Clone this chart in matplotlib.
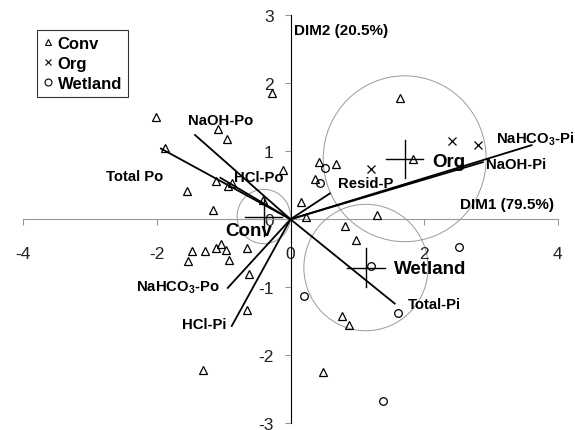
import matplotlib
matplotlib.use('Agg')
import matplotlib.pyplot as plt
from matplotlib.patches import Circle
from matplotlib.lines import Line2D

plt.rcParams['font.family'] = ['Liberation Sans', 'DejaVu Sans']
plt.rcParams['mathtext.default'] = 'regular'

# sample scores (DIM1, DIM2)
conv_x = [-2.01, -1.08, -0.95, -1.88, -0.28, -0.11, -1.12, -0.93, -0.87, -1.55, -0.41, -1.16,
          0.16, 0.23, 0.43, 0.68, 0.37, 1.64, 1.84, 1.30, 0.82, 0.98, 0.77, 0.88, 0.48,
          -1.48, -1.28, -1.12, -1.04, -0.96, -0.65, -1.54, -0.92, -0.62, -0.65, -1.31]
conv_y = [1.51, 1.33, 1.18, 1.05, 1.85, 0.72, 0.56, 0.49, 0.54, 0.41, 0.28, 0.13,
          0.25, 0.03, 0.84, 0.81, 0.59, 1.78, 0.88, 0.07, -0.10, -0.31, -1.42, -1.56, -2.25,
          -0.47, -0.47, -0.43, -0.37, -0.45, -0.43, -0.61, -0.60, -0.81, -1.34, -2.22]
org_x = [2.42, 2.81, 1.21]
org_y = [1.15, 1.09, 0.74]
wet_x = [0.52, 0.44, 2.52, 1.21, 0.20, 1.61, 1.38]
wet_y = [0.76, 0.54, -0.41, -0.69, -1.13, -1.38, -2.68]

# group centroids and confidence circles
groups = ['Conv', 'Org', 'Wetland']
cent_x = [-0.40, 1.71, 1.13]
cent_y = [0.04, 0.89, -0.71]
radius = [0.40, 1.22, 0.93]

# variable loadings
variables = ['Total Po', 'NaOH-Po', 'HCl-Po', 'NaHCO$_3$-Po', 'HCl-Pi',
             'Resid-P', 'NaHCO$_3$-Pi', 'NaOH-Pi', 'Total-Pi']
load_x = [-1.94, -1.43, -1.05, -0.94, -0.88, 0.59, 3.61, 2.88, 1.56]
load_y = [1.04, 1.24, 0.61, -1.01, -1.57, 0.38, 1.09, 0.84, -1.24]

# label placement for the loadings
var_lab_x = [-2.33, -1.05, -0.47, -1.68, -1.29, 1.12, 3.66, 3.38, 2.16]
var_lab_y = [0.63, 1.46, 0.62, -1.00, -1.54, 0.54, 1.19, 0.82, -1.25]
grp_lab_x = [-0.62, 2.37, 2.09]
grp_lab_y = [-0.16, 0.85, -0.72]

fig = plt.figure(figsize=(5.75, 4.31), dpi=100)
ax = fig.add_axes([0, 0, 1, 1])
ax.set_xlim(-4.35, 4.26)
ax.set_ylim(-3.10, 3.24)

for k in range(len(groups)):
    ax.add_patch(Circle((cent_x[k], cent_y[k]), radius[k], fill=False,
                        edgecolor='#9a9a9a', linewidth=0.7, zorder=1))
    ax.plot([cent_x[k] - 0.28, cent_x[k] + 0.28], [cent_y[k], cent_y[k]], color='black', lw=1.0, zorder=3)
    ax.plot([cent_x[k], cent_x[k]], [cent_y[k] - 0.28, cent_y[k] + 0.28], color='black', lw=1.0, zorder=3)
    ax.text(grp_lab_x[k], grp_lab_y[k], groups[k], fontsize=13.5, fontweight='bold',
            ha='center', va='center', zorder=5)

for k in range(len(variables)):
    ax.plot([0, load_x[k]], [0, load_y[k]], color='black', lw=1.3, zorder=4)
    ax.text(var_lab_x[k], var_lab_y[k], variables[k], fontsize=10.7, fontweight='bold',
            ha='center', va='center', zorder=5)

ax.plot(conv_x, conv_y, '^', ms=5.5, mfc='none', mec='black', mew=0.9, zorder=3)
ax.plot(org_x, org_y, 'x', ms=6, color='black', mew=0.9, zorder=3)
ax.plot(wet_x, wet_y, 'o', ms=5.5, mfc='none', mec='black', mew=0.9, zorder=3)

ax.text(3.24, 0.22, 'DIM1 (79.5%)', fontsize=11, fontweight='bold', ha='center', va='center')
ax.text(0.76, 2.79, 'DIM2 (20.5%)', fontsize=11, fontweight='bold', ha='center', va='center')

# axes through the origin
for s in ['top', 'right']:
    ax.spines[s].set_visible(False)
ax.spines['left'].set_position(('data', 0))
ax.spines['bottom'].set_position(('data', 0))
ax.spines['left'].set_bounds(-3, 3)
ax.spines['bottom'].set_bounds(-4, 4)
ax.spines['left'].set_color('black')
ax.spines['bottom'].set_color('#999999')
ax.spines['left'].set_zorder(2)
ax.spines['bottom'].set_zorder(2)
ax.set_xticks([-4, -2, 0, 2, 4])
ax.set_yticks([-3, -2, -1, 0, 1, 2, 3])
ax.set_xticklabels(['-4', '-2', '0', '2', '4'])
ax.set_yticklabels(['-3', '-2', '-1', '0', '1', '2', '3'])
ax.tick_params(axis='x', direction='out', length=4, color='#999999', pad=15,
               labelsize=12.5, labelcolor='#222222')
ax.tick_params(axis='y', direction='out', length=4, color='#999999', pad=8,
               labelsize=12.5, labelcolor='#222222')

handles = [Line2D([], [], marker='^', ls='none', ms=5, mfc='none', mec='black', mew=0.8),
           Line2D([], [], marker='x', ls='none', ms=5, color='black', mew=0.8),
           Line2D([], [], marker='o', ls='none', ms=5, mfc='none', mec='black', mew=0.8)]
leg = ax.legend(handles, groups, loc='upper left', bbox_to_anchor=(0.064, 0.928),
                borderaxespad=0, frameon=True, fancybox=False, handlelength=0.6,
                handletextpad=0.3, borderpad=0.35, labelspacing=0.3,
                prop={'weight': 'bold', 'size': 12})
leg.get_frame().set_edgecolor('black')
leg.get_frame().set_linewidth(0.8)

plt.savefig('out.png', dpi=100)
